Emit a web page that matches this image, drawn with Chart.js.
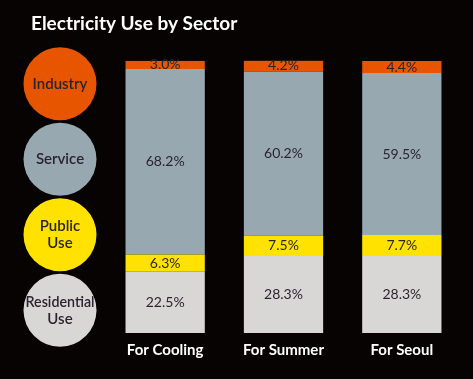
<!DOCTYPE html>
<html><head><meta charset="utf-8">
<script src="https://cdn.jsdelivr.net/npm/chart.js@4/dist/chart.umd.min.js"></script>
<style>html,body{margin:0;padding:0;background:#070303;}#wrap{width:473px;height:379px;}</style>
</head><body><div id="wrap"><canvas id="c" width="473" height="379"></canvas></div>
<script>
const categories = ["For Cooling", "For Summer", "For Seoul"];
const residential = [22.5, 28.3, 28.3];
const publicUse = [6.3, 7.5, 7.7];
const service = [68.2, 60.2, 59.5];
const industry = [3.0, 4.2, 4.4];
const seriesNames = ["Residential Use", "Public Use", "Service", "Industry"];
const seriesColors = ["#D9D7D5", "#FFE200", "#97A8B1", "#E85500"];
const titleText = "Electricity Use by Sector";

const FONT = "Lato, 'Liberation Sans', sans-serif";
const series = [residential, publicUse, service, industry];

const labelPlugin = {
  id: 'segLabels',
  afterDatasetsDraw(chart) {
    const ctx = chart.ctx;
    ctx.save();
    ctx.font = "14px " + FONT;
    ctx.fillStyle = "#2a2430";
    ctx.textAlign = "center";
    ctx.textBaseline = "middle";
    chart.data.datasets.forEach((ds, di) => {
      const meta = chart.getDatasetMeta(di);
      meta.data.forEach((bar, i) => {
        const v = ds.data[i];
        let y = (bar.y + bar.base) / 2;
        ctx.fillText(v.toFixed(1) + "%", bar.x, y);
      });
    });
    ctx.restore();
  }
};

const legendPlugin = {
  id: 'circleLegend',
  afterDraw(chart) {
    const ctx = chart.ctx;
    const ca = chart.chartArea;
    const n = chart.data.datasets.length;
    const step = 75.5;
    ctx.save();
    for (let k = 0; k < n; k++) {
      const di = n - 1 - k;
      const ds = chart.data.datasets[di];
      const cx = 60, cy = ca.top + 23 + k * step, r = 36.5;
      ctx.beginPath();
      ctx.arc(cx, cy, r, 0, Math.PI * 2);
      ctx.fillStyle = ds.backgroundColor;
      ctx.fill();
      const lines = ds.label.split(" ");
      ctx.font = "600 15px " + FONT;
      ctx.fillStyle = "#2a2430";
      ctx.textAlign = "center";
      ctx.textBaseline = "middle";
      const lh = 17;
      lines.forEach((ln, li) => {
        ctx.fillText(ln, cx, cy + (li - (lines.length - 1) / 2) * lh, 2 * r - 4);
      });
    }
    ctx.restore();
  }
};

new Chart(document.getElementById('c'), {
  type: 'bar',
  data: {
    labels: categories,
    datasets: series.map((d, i) => ({
      label: seriesNames[i],
      data: d,
      backgroundColor: seriesColors[i],
      borderWidth: 0,
      categoryPercentage: 1,
      barPercentage: 0.67
    }))
  },
  options: {
    responsive: false,
    animation: false,
    layout: { padding: { left: 31, right: 12, top: 0, bottom: 20 } },
    plugins: {
      legend: { display: false },
      tooltip: { enabled: false },
      title: {
        display: true,
        text: titleText,
        align: 'start',
        color: '#ffffff',
        font: { family: FONT, size: 19, weight: 'bold' },
        padding: { top: 12, bottom: 26 }
      }
    },
    scales: {
      x: {
        stacked: true,
        grid: { display: false },
        border: { display: false },
        ticks: { color: '#ffffff', font: { family: FONT, size: 15, weight: 'bold' }, padding: 0 }
      },
      y: {
        stacked: true,
        min: 0, max: 100,
        grid: { display: false },
        border: { display: false },
        ticks: { display: false },
        afterFit(s) { s.width = 75; }
      }
    }
  },
  plugins: [labelPlugin, legendPlugin]
});
</script></body></html>
